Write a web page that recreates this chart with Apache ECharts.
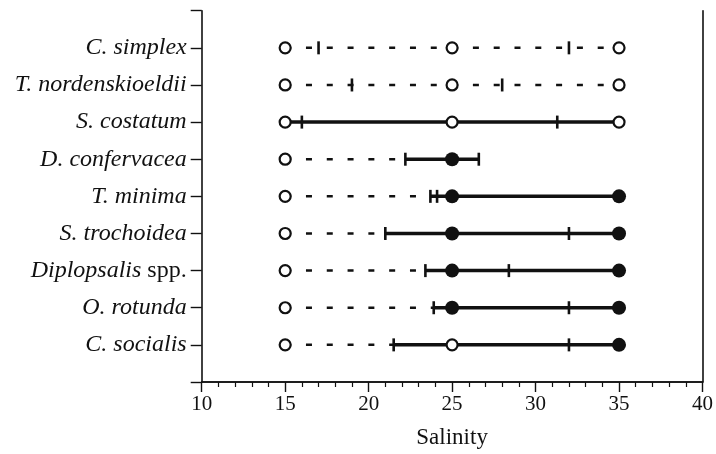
<!DOCTYPE html>
<html>
<head>
<meta charset="utf-8">
<script src="https://cdn.jsdelivr.net/npm/echarts@6/dist/echarts.min.js"></script>
<style>html,body{margin:0;padding:0;background:#fff}#c{width:716px;height:454px}</style>
</head>
<body>
<div id="c"></div>
<script>
// Rows listed top to bottom
const species = ['C. simplex','T. nordenskioeldii','S. costatum','D. confervacea','T. minima','S. trochoidea','Diplopsalis spp.','O. rotunda','C. socialis'];
const dashStart = [15, 15, null, 15, 15, 15, 15, 15, 15];
const dashEnd   = [35, 35, null, 22.2, 23.7, 21, 23.4, 23.9, 21.5];
const solidStart = [null, null, 15, 22.2, 23.7, 21, 23.4, 23.9, 21.5];
const solidEnd   = [null, null, 35, 26.6, 35, 35, 35, 35, 35];
const tickMarks = [[17, 32], [19, 28], [16, 31.3], [22.2, 26.6], [23.7, 24.1], [21, 32], [23.4, 28.4], [23.9, 32], [21.5, 32]];
const openCircles = [[15, 25, 35], [15, 25, 35], [15, 25, 35], [15], [15], [15], [15], [15], [15, 25]];
const filledCircles = [[], [], [], [25], [25, 35], [25, 35], [25, 35], [25, 35], [35]];
const xTicks = [10, 15, 20, 25, 30, 35, 40];

const rowY = i => species.length - i;
const dashData = [], solidData = [], tickData = [], openData = [], filledData = [];
species.forEach((s, i) => {
  const y = rowY(i);
  if (dashStart[i] != null) {
    // dashed run restarts its pattern at each circle it passes
    const cuts = openCircles[i].filter(v => v > dashStart[i] && v < dashEnd[i]);
    let a = dashStart[i];
    cuts.concat([dashEnd[i]]).forEach(b => { dashData.push([a, b, y]); a = b; });
  }
  if (solidStart[i] != null) solidData.push([solidStart[i], solidEnd[i], y]);
  tickMarks[i].forEach(v => tickData.push([v, y]));
  openCircles[i].forEach(v => openData.push([v, y]));
  filledCircles[i].forEach(v => filledData.push([v, y]));
});

function segRenderer(width, dash) {
  return function (params, api) {
    const p1 = api.coord([api.value(0), api.value(2)]);
    const p2 = api.coord([api.value(1), api.value(2)]);
    return {
      type: 'line',
      shape: { x1: p1[0], y1: p1[1], x2: p2[0], y2: p2[1] },
      style: { stroke: '#111', lineWidth: width, lineDash: dash }
    };
  };
}

const serif = '"Liberation Serif", "DejaVu Serif", serif';
const chart = echarts.init(document.getElementById('c'));
chart.setOption({
  animation: false,
  backgroundColor: '#fff',
  grid: { left: 201.7, right: 9.3, top: 10.7, bottom: 71.3 },
  xAxis: [{
    type: 'value', min: xTicks[0], max: xTicks[xTicks.length - 1], interval: 5,
    axisLine: { show: true, lineStyle: { color: '#111', width: 1.6 } },
    axisTick: { show: true, inside: false, length: 10, lineStyle: { color: '#111', width: 1.4 } },
    minorTick: { show: true, splitNumber: 5, length: 5, lineStyle: { color: '#111', width: 1.2 } },
    axisLabel: { color: '#111', fontFamily: serif, fontSize: 21, margin: 12 },
    splitLine: { show: false },
    name: 'Salinity', nameLocation: 'middle', nameGap: 44,
    nameTextStyle: { color: '#111', fontFamily: serif, fontSize: 23 }
  }, {
    type: 'value', position: 'top', min: 10, max: 40,
    axisLine: { show: true, lineStyle: { color: '#111', width: 1.6 } },
    axisTick: { show: false }, axisLabel: { show: false }, splitLine: { show: false }
  }],
  yAxis: [{
    type: 'value', min: 0, max: 10, interval: 1,
    axisLine: { show: true, lineStyle: { color: '#111', width: 1.6 } },
    axisTick: { show: true, inside: false, length: 11, lineStyle: { color: '#111', width: 1.4 } },
    axisLabel: {
      margin: 15, color: '#111', fontFamily: serif, fontSize: 24, fontStyle: 'italic',
      formatter: function (v) {
        const idx = species.length - v;
        if (idx < 0 || idx >= species.length || v === 0) return '';
        const name = species[idx];
        if (name.endsWith(' spp.')) return '{i|' + name.slice(0, -5) + '} {n|spp.}';
        return '{i|' + name + '}';
      },
      rich: {
        i: { fontFamily: serif, fontSize: 24, fontStyle: 'italic', color: '#111' },
        n: { fontFamily: serif, fontSize: 24, fontStyle: 'normal', color: '#111' }
      }
    },
    splitLine: { show: false }
  }, {
    type: 'value', position: 'right', min: 0, max: 10,
    axisLine: { show: true, lineStyle: { color: '#111', width: 1.6 } },
    axisTick: { show: false }, axisLabel: { show: false }, splitLine: { show: false }
  }],
  series: [
    { type: 'custom', data: dashData, encode: { x: [0, 1], y: 2 }, renderItem: segRenderer(2.5, [6, 14.8]), z: 2, silent: true },
    { type: 'custom', data: solidData, encode: { x: [0, 1], y: 2 }, renderItem: segRenderer(3.5, null), z: 3, silent: true },
    { type: 'scatter', data: tickData, symbol: 'rect', symbolSize: [2.6, 13], itemStyle: { color: '#111', opacity: 1 }, z: 4, silent: true },
    { type: 'scatter', data: openData, symbol: 'circle', symbolSize: 11, itemStyle: { color: '#fff', borderColor: '#111', borderWidth: 2.2, opacity: 1 }, z: 5, silent: true },
    { type: 'scatter', data: filledData, symbol: 'circle', symbolSize: 14, itemStyle: { color: '#111', opacity: 1 }, z: 5, silent: true }
  ]
});
</script>
</body>
</html>
